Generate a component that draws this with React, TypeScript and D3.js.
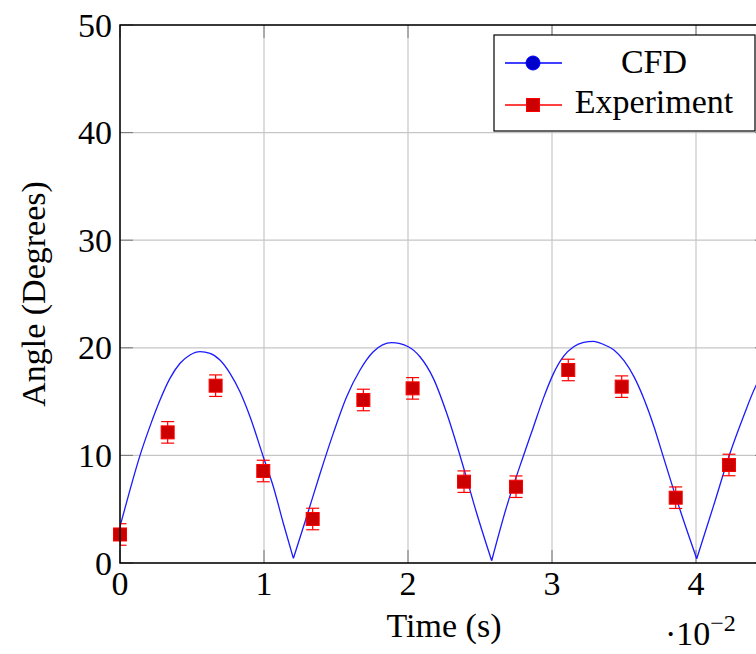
import React from "react";
import * as d3 from "d3";

const X_TICKS = [0, 0.01, 0.02, 0.03, 0.04];
const X_TICK_LABELS = ["0", "1", "2", "3", "4"];
const Y_TICKS = [0, 10, 20, 30, 40, 50];

// CFD curve (time in s, angle in degrees)
const CFD_T = [
  0, 0.000694, 0.00139, 0.00208, 0.00278, 0.00347, 0.00417, 0.00486, 0.00556,
  0.00625, 0.00694, 0.00764, 0.00833, 0.00903, 0.00995, 0.01065, 0.01134, 0.01204,
  0.01296, 0.01389, 0.01481, 0.01574, 0.01667, 0.01759, 0.01887, 0.02002, 0.02083,
  0.02176, 0.02269, 0.02384, 0.02477, 0.02581,
  0.02685, 0.028, 0.0287, 0.0294, 0.0301, 0.0308, 0.0315, 0.0322, 0.03287, 0.0336,
  0.0343, 0.035, 0.0357, 0.0364, 0.0371, 0.0377, 0.0389, 0.04005,
  0.0412, 0.04236, 0.04329, 0.04417, 0.0448,
];
const CFD_V = [
  3.4, 6.8, 10.0, 12.7, 15.15, 17.16, 18.56, 19.33, 19.64,
  19.49, 18.87, 17.63, 15.92, 13.6, 9.88, 7.09, 3.69, 0.43,
  4.3, 8.3, 12.05, 15.46, 17.94, 19.64, 20.48, 20.1, 19.17,
  17.16, 13.91, 8.95, 4.62, 0.21,
  5.24, 9.9, 12.6, 15.3, 17.6, 19.2, 20.1, 20.5, 20.6, 20.3,
  19.8, 18.8, 17.3, 15.2, 12.6, 10.0, 4.9, 0.4,
  5.24, 10.2, 13.6, 16.5, 17.9,
];

// Experiment points
const EXP_T = [0, 0.00331, 0.00664, 0.00995, 0.01338, 0.0169, 0.02032, 0.02389, 0.0275, 0.03113, 0.03484, 0.03859, 0.04229];
const EXP_V = [2.65, 12.14, 16.48, 8.55, 4.09, 15.15, 16.23, 7.56, 7.09, 17.94, 16.39, 6.07, 9.11];
const EXP_ERR = [1, 1, 1, 1, 1, 1, 1, 1, 1, 1, 1, 1, 1];

const W = 756;
const H = 654;
const L = 120, R = 768, T = 25, B = 563;
const FONT = "'Liberation Serif', 'Times New Roman', serif";

export default function App() {
  const x = d3.scaleLinear().domain([0, 0.045]).range([L, R]);
  const y = d3.scaleLinear().domain([0, 50]).range([B, T]);

  // split curve into arches at the minima so the cusps stay sharp
  const pts = CFD_T.map((t, i) => [t, CFD_V[i]] as [number, number]);
  const arches: [number, number][][] = [];
  let cur: [number, number][] = [];
  pts.forEach((p, i) => {
    cur.push(p);
    const isMin = i > 0 && i < pts.length - 1 && p[1] < pts[i - 1][1] && p[1] < pts[i + 1][1];
    if (isMin) {
      arches.push(cur);
      cur = [p];
    }
  });
  arches.push(cur);
  const line = d3
    .line<[number, number]>()
    .x((d) => x(d[0]))
    .y((d) => y(d[1]))
    .curve(d3.curveMonotoneX);
  const cfdPath = arches.map((a) => line(a)).join("");

  const tickLen = 13;
  const sq = 13;

  return (
    <svg
      width={W}
      height={H}
      style={{ position: "absolute", left: 0, top: 0, background: "#fff" }}
      fontFamily={FONT}
    >
      <defs>
        <clipPath id="plotclip">
          <rect x={L} y={T} width={R - L} height={B - T} />
        </clipPath>
      </defs>
      <rect x={0} y={0} width={W} height={H} fill="#fff" />
      {/* grid */}
      {X_TICKS.map((t) => (
        <line key={"gx" + t} x1={x(t)} x2={x(t)} y1={T} y2={B} stroke="#c6c6c6" strokeWidth={1.2} />
      ))}
      {Y_TICKS.map((v) => (
        <line key={"gy" + v} x1={L} x2={R} y1={y(v)} y2={y(v)} stroke="#c6c6c6" strokeWidth={1.2} />
      ))}
      {/* ticks */}
      {X_TICKS.map((t) => (
        <g key={"tx" + t} stroke="#777" strokeWidth={1}>
          <line x1={x(t)} x2={x(t)} y1={B} y2={B - tickLen} />
          <line x1={x(t)} x2={x(t)} y1={T} y2={T + tickLen} />
        </g>
      ))}
      {Y_TICKS.map((v) => (
        <g key={"ty" + v} stroke="#777" strokeWidth={1}>
          <line x1={L} x2={L + tickLen} y1={y(v)} y2={y(v)} />
          <line x1={R} x2={R - tickLen} y1={y(v)} y2={y(v)} />
        </g>
      ))}
      {/* CFD line */}
      <path d={cfdPath} fill="none" stroke="#1a1aff" strokeWidth={1.3} clipPath="url(#plotclip)" />
      {/* error bars */}
      <g clipPath="url(#plotclip)" stroke="#ff0000" strokeWidth={1.2}>
        {EXP_T.map((t, i) => {
          const cx = x(t);
          const y1 = y(EXP_V[i] + EXP_ERR[i]);
          const y2 = y(EXP_V[i] - EXP_ERR[i]);
          return (
            <g key={"e" + i}>
              <line x1={cx} x2={cx} y1={y1} y2={y2} />
              <line x1={cx - sq / 2} x2={cx + sq / 2} y1={y1} y2={y1} />
              <line x1={cx - sq / 2} x2={cx + sq / 2} y1={y2} y2={y2} />
            </g>
          );
        })}
      </g>
      {/* markers */}
      {EXP_T.map((t, i) => (
        <rect
          key={"m" + i}
          x={x(t) - sq / 2}
          y={y(EXP_V[i]) - sq / 2}
          width={sq}
          height={sq}
          fill="#cc0000"
          stroke="#ff0000"
          strokeWidth={1}
        />
      ))}
      {/* axis frame */}
      <rect x={L} y={T} width={R - L} height={B - T} fill="none" stroke="#000" strokeWidth={1.5} />
      {/* tick labels */}
      {X_TICKS.map((t, i) => (
        <text key={"lx" + t} x={x(t)} y={B + 32} fontSize={34} textAnchor="middle" fill="#000">
          {X_TICK_LABELS[i]}
        </text>
      ))}
      {Y_TICKS.map((v) => (
        <text key={"ly" + v} x={L - 8} y={y(v) + 11.5} fontSize={34} textAnchor="end" fill="#000">
          {v}
        </text>
      ))}
      {/* axis labels */}
      <text x={(L + R) / 2} y={637} fontSize={34} textAnchor="middle" fill="#000">
        Time (s)
      </text>
      <text x={665} y={645} fontSize={34} fill="#000">
        ·10<tspan fontSize={24} dy={-14}>−2</tspan>
      </text>
      <text
        transform={`translate(45, ${(T + B) / 2}) rotate(-90)`}
        fontSize={34}
        textAnchor="middle"
        fill="#000"
      >
        Angle (Degrees)
      </text>
      {/* legend */}
      <g>
        <rect x={494} y={35} width={261} height={96} fill="#fff" stroke="#000" strokeWidth={1.2} />
        <line x1={505} x2={562} y1={63} y2={63} stroke="#0000ff" strokeWidth={1.3} />
        <circle cx={533} cy={63} r={7} fill="#0000cc" stroke="#0000ff" strokeWidth={1} />
        <text x={654} y={72.5} fontSize={34} textAnchor="middle" fill="#000">CFD</text>
        <line x1={505} x2={562} y1={105} y2={105} stroke="#ff0000" strokeWidth={1.3} />
        <rect x={533 - sq / 2} y={105 - sq / 2} width={sq} height={sq} fill="#cc0000" stroke="#ff0000" strokeWidth={1} />
        <text x={654} y={113} fontSize={34} textAnchor="middle" fill="#000">Experiment</text>
      </g>
    </svg>
  );
}
